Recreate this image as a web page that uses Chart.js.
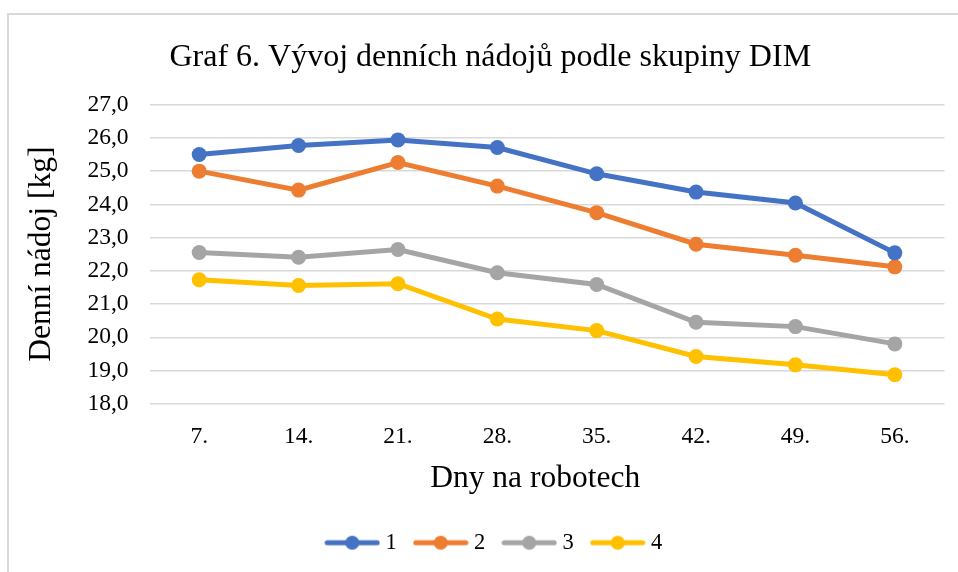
<!DOCTYPE html>
<html>
<head>
<meta charset="utf-8">
<script src="https://cdn.jsdelivr.net/npm/chart.js@4/dist/chart.umd.min.js"></script>
<style>
  html, body { margin: 0; padding: 0; background: #fff; overflow: hidden; }
  #wrap { position: relative; width: 958px; height: 572px; overflow: hidden; }
  #frame { position: absolute; left: 7px; top: 13px; width: 1000px; height: 600px; border: 2px solid #d9d9d9; }
  canvas { position: absolute; left: 0; top: 0; }
</style>
</head>
<body>
<div id="wrap">
  <div id="frame"></div>
  <canvas id="chart" width="952" height="572"></canvas>
</div>
<script>
// === Data ===
const days = ['7.', '14.', '21.', '28.', '35.', '42.', '49.', '56.'];
const group1 = [25.5, 25.77, 25.94, 25.71, 24.92, 24.37, 24.04, 22.54];
const group2 = [25.0, 24.43, 25.26, 24.55, 23.75, 22.8, 22.47, 22.12];
const group3 = [22.55, 22.41, 22.64, 21.94, 21.59, 20.45, 20.32, 19.8];
const group4 = [21.73, 21.56, 21.61, 20.55, 20.2, 19.42, 19.17, 18.87];
const groupNames = ['1', '2', '3', '4'];
const colors = ['#4472C4', '#ED7D31', '#A5A5A5', '#FFC000'];

const serif = '"Liberation Serif", "Times New Roman", serif';

// legend marker: line with a dot in the middle
function legendMarker(color) {
  const c = document.createElement('canvas');
  c.width = 56;
  c.height = 16;
  const ctx = c.getContext('2d');
  ctx.strokeStyle = color;
  ctx.lineWidth = 5;
  ctx.lineCap = 'round';
  ctx.beginPath();
  ctx.moveTo(3, 8);
  ctx.lineTo(53, 8);
  ctx.stroke();
  ctx.fillStyle = color;
  ctx.beginPath();
  ctx.arc(28, 8, 7, 0, Math.PI * 2);
  ctx.fill();
  return c;
}
const markers = colors.map(legendMarker);

// nudge the legend a little to the right, like the original
const legendShift = {
  id: 'legendShift',
  afterLayout(chart) {
    chart.legend.left += 6;
    chart.legend.right += 6;
  }
};

const series = [group1, group2, group3, group4];

new Chart(document.getElementById('chart'), {
  type: 'line',
  data: {
    labels: days,
    datasets: series.map((vals, i) => ({
      label: groupNames[i],
      data: vals,
      borderColor: colors[i],
      backgroundColor: colors[i],
      borderWidth: 5,
      pointRadius: 7.5,
      pointHoverRadius: 7.5,
      pointBorderWidth: 0,
      tension: 0
    }))
  },
  plugins: [legendShift],
  options: {
    responsive: false,
    animation: false,
    layout: { padding: { left: 28.5, right: 0, top: 0, bottom: 8 } },
    plugins: {
      title: {
        display: true,
        text: 'Graf 6. Vývoj denních nádojů podle skupiny DIM',
        color: '#000',
        font: { family: serif, size: 32, weight: 'normal' },
        padding: { top: 38, bottom: 28.3 }
      },
      legend: {
        position: 'bottom',
        labels: {
          usePointStyle: true,
          pointStyleWidth: 44,
          padding: 22,
          color: '#000',
          font: { family: serif, size: 22.5 },
          generateLabels: chart => chart.data.datasets.map((ds, i) => ({
            text: ds.label,
            pointStyle: markers[i],
            fillStyle: ds.borderColor,
            strokeStyle: ds.borderColor,
            lineWidth: 0,
            datasetIndex: i,
            fontColor: '#000'
          }))
        }
      },
      tooltip: { enabled: false }
    },
    scales: {
      x: {
        offset: true,
        grid: { display: false, drawTicks: false },
        border: { display: false },
        ticks: { color: '#000', padding: 19, font: { family: serif, size: 23.5 } },
        title: {
          display: true,
          text: 'Dny na robotech   ',
          color: '#000',
          font: { family: serif, size: 31.5 },
          padding: { top: -10.5, bottom: 12.3 }
        }
      },
      y: {
        min: 18,
        max: 27,
        grid: { color: '#d9d9d9', lineWidth: 1.5, drawTicks: false },
        border: { display: false },
        ticks: {
          stepSize: 1,
          color: '#000',
          padding: 21,
          font: { family: serif, size: 23.5 },
          callback: v => v.toFixed(1).replace('.', ',')
        },
        title: {
          display: true,
          text: 'Denní nádoj [kg]',
          color: '#000',
          font: { family: serif, size: 31.5 },
          padding: { top: -6, bottom: 0 }
        },
        afterFit: scale => { scale.width = 121; }
      }
    }
  }
});
</script>
</body>
</html>
